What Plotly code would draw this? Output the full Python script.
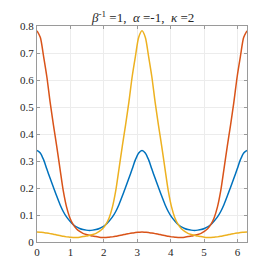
import numpy as np
import plotly.graph_objects as go

# sample grid: 0 .. 2*pi in steps of pi/32
x_grid = np.linspace(0, 2 * np.pi, 65)

blue_vals = [0.339, 0.330, 0.305, 0.270, 0.236, 0.203, 0.170, 0.139, 0.113, 0.093, 0.078, 0.065, 0.056, 0.050, 0.046, 0.044,
             0.043, 0.044, 0.046, 0.050, 0.056, 0.065, 0.078, 0.093, 0.113, 0.139, 0.170, 0.203, 0.236, 0.270, 0.305, 0.330,
             0.339, 0.330, 0.305, 0.270, 0.236, 0.203, 0.170, 0.139, 0.113, 0.093, 0.078, 0.065, 0.056, 0.050, 0.046, 0.044,
             0.043, 0.044, 0.046, 0.050, 0.056, 0.065, 0.078, 0.093, 0.113, 0.139, 0.170, 0.203, 0.236, 0.270, 0.305, 0.330,
             0.339]

orange_vals = [0.782, 0.758, 0.688, 0.612, 0.518, 0.434, 0.355, 0.272, 0.190, 0.130, 0.090, 0.065, 0.049, 0.039, 0.032, 0.028,
               0.025, 0.022, 0.020, 0.018, 0.017, 0.017, 0.018, 0.019, 0.021, 0.024, 0.026, 0.029, 0.031, 0.033, 0.035, 0.036,
               0.037, 0.036, 0.035, 0.033, 0.031, 0.029, 0.026, 0.024, 0.021, 0.019, 0.018, 0.017, 0.017, 0.018, 0.020, 0.022,
               0.025, 0.028, 0.032, 0.039, 0.049, 0.065, 0.090, 0.130, 0.190, 0.272, 0.355, 0.434, 0.518, 0.612, 0.688, 0.758,
               0.782]

yellow_vals = [0.037, 0.036, 0.035, 0.033, 0.031, 0.029, 0.026, 0.024, 0.021, 0.019, 0.018, 0.017, 0.017, 0.018, 0.020, 0.022,
               0.025, 0.028, 0.032, 0.039, 0.049, 0.065, 0.090, 0.130, 0.190, 0.272, 0.355, 0.434, 0.518, 0.612, 0.688, 0.758,
               0.782, 0.758, 0.688, 0.612, 0.518, 0.434, 0.355, 0.272, 0.190, 0.130, 0.090, 0.065, 0.049, 0.039, 0.032, 0.028,
               0.025, 0.022, 0.020, 0.018, 0.017, 0.017, 0.018, 0.019, 0.021, 0.024, 0.026, 0.029, 0.031, 0.033, 0.035, 0.036,
               0.037]

x_ticks = [0, 1, 2, 3, 4, 5, 6]
y_ticks = [0, 0.1, 0.2, 0.3, 0.4, 0.5, 0.6, 0.7, 0.8]
y_tick_text = ["0", "0.1", "0.2", "0.3", "0.4", "0.5", "0.6", "0.7", "0.8"]
title_text = "<i>β</i><sup>-1</sup> =1,  <i>α</i> =-1,  <i>κ</i> =2"

series = [
    ("blue", blue_vals, "#0072BD"),
    ("orange", orange_vals, "#D95319"),
    ("yellow", yellow_vals, "#EDB120"),
]

fig = go.Figure()
for name, vals, col in series:
    fig.add_trace(go.Scatter(x=x_grid, y=vals, mode="lines", name=name,
                             line=dict(color=col, width=1.5, shape="spline", smoothing=0.8)))

font_family = "'Liberation Serif', serif"
axis_common = dict(showline=True, linecolor="#9a9a9a", linewidth=1, mirror="ticks",
                   ticks="inside", ticklen=3, tickcolor="#9a9a9a",
                   showgrid=True, gridcolor="#ececec", gridwidth=1, zeroline=False,
                   tickfont=dict(family=font_family, size=11, color="#262626"))

fig.update_layout(
    width=266, height=265,
    margin=dict(l=27, r=27, t=13, b=31),
    paper_bgcolor="white", plot_bgcolor="white",
    showlegend=False,
    font=dict(family=font_family, color="#262626"),
    xaxis=dict(range=[0, 2 * np.pi], tickvals=x_ticks, **axis_common),
    yaxis=dict(range=[0, 0.8], tickvals=y_ticks, ticktext=y_tick_text, ticklabelstandoff=0, **axis_common),
)
fig.add_annotation(text=title_text, xref="paper", yref="paper", x=0.5, y=1.0,
                   xanchor="center", yanchor="bottom", yshift=-1, showarrow=False,
                   font=dict(family=font_family, size=13, color="#262626"))

fig.write_html("out.html")
